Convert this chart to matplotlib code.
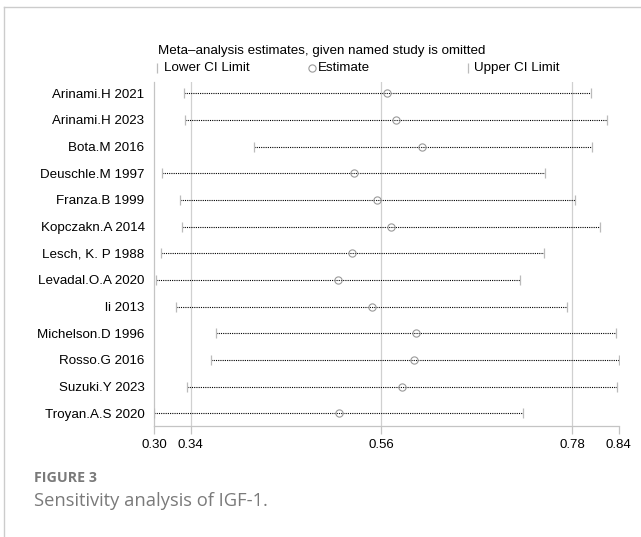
import matplotlib
matplotlib.use("Agg")
import matplotlib.pyplot as plt
from matplotlib.lines import Line2D

studies = ["Arinami.H 2021", "Arinami.H 2023", "Bota.M 2016", "Deuschle.M 1997",
           "Franza.B 1999", "Kopczakn.A 2014", "Lesch, K. P 1988", "Levadal.O.A 2020",
           "li 2013", "Michelson.D 1996", "Rosso.G 2016", "Suzuki.Y 2023", "Troyan.A.S 2020"]
lower = [0.3311, 0.3323, 0.4123, 0.3058, 0.3265, 0.3293, 0.3050, 0.2988,
         0.3227, 0.3688, 0.3623, 0.3354, 0.2973]
estimate = [0.5664, 0.5761, 0.6068, 0.5277, 0.5545, 0.5710, 0.5257, 0.5096,
            0.5488, 0.5995, 0.5976, 0.5834, 0.5104]
upper = [0.8010, 0.8202, 0.8025, 0.7487, 0.7833, 0.8121, 0.7468, 0.7198,
         0.7740, 0.8306, 0.8333, 0.8317, 0.7233]
tick_values = [0.2973, 0.3395, 0.5595, 0.7795, 0.8333]
tick_labels = ["0.30", "0.34", "0.56", "0.78", "0.84"]
grid_values = [0.3395, 0.5595, 0.7795]

plt.rcParams['font.family'] = ['Liberation Sans', 'DejaVu Sans']
FS = 9.6

W, H = 641, 537
fig = plt.figure(figsize=(W / 100, H / 100), dpi=100)

# frame around figure panel (top and left visible)
fig.add_artist(Line2D([4 / W, 4 / W], [0, 1 - 7 / H], color="#cccccc", lw=1))
fig.add_artist(Line2D([4 / W, 1], [1 - 7 / H, 1 - 7 / H], color="#cccccc", lw=1))

ax = fig.add_axes([154.3 / W, 1 - 426 / H, 464.4 / W, 344 / H])
n = len(studies)
ys = list(range(n))
ax.set_xlim(tick_values[0], tick_values[-1])
ax.set_ylim(12.475, -0.424)

for g in grid_values:
    ax.axvline(g, color="#d0d0d0", lw=0.9, zorder=0)

for i in ys:
    ax.plot([lower[i], upper[i]], [i, i], color="black", lw=0.8,
            linestyle=(0, (1, 1)), zorder=2)
ax.plot(lower, ys, linestyle="none", marker="|", markersize=7.5, color="#bbbbbb",
        markeredgewidth=0.9, zorder=3)
ax.plot(upper, ys, linestyle="none", marker="|", markersize=7.5, color="#bbbbbb",
        markeredgewidth=0.9, zorder=3)
ax.plot(estimate, ys, linestyle="none", marker="o", markersize=5.2,
        markerfacecolor="none", markeredgecolor="#9a9a9a", markeredgewidth=0.8, zorder=4)

for s in ["top", "right"]:
    ax.spines[s].set_visible(False)
for s in ["left", "bottom"]:
    ax.spines[s].set_color("#c4c4c4")
    ax.spines[s].set_linewidth(0.9)

ax.set_xticks(tick_values)
ax.set_xticklabels(tick_labels, fontsize=9.5)
ax.tick_params(axis="x", length=6, color="#c4c4c4", width=0.9, pad=3)
ax.set_yticks(ys)
ax.set_yticklabels(studies, fontsize=FS)
ax.tick_params(axis="y", length=0, pad=7)

# legend / title
fig.text(158 / W, 1 - 51 / H, "Meta\u2013analysis estimates, given named study is omitted",
         fontsize=FS, va="center", ha="left")
ly = 1 - 68 / H
fig.add_artist(Line2D([156.7 / W], [ly], marker="|", markersize=7.5, color="#bbbbbb",
                      markeredgewidth=0.9, linestyle="none"))
fig.text(164 / W, ly, "Lower CI Limit", fontsize=FS, va="center", ha="left")
fig.add_artist(Line2D([311.7 / W], [ly], marker="o", markersize=5.2, markerfacecolor="none",
                      markeredgecolor="#9a9a9a", markeredgewidth=0.8, linestyle="none"))
fig.text(318 / W, ly, "Estimate", fontsize=FS, va="center", ha="left")
fig.add_artist(Line2D([468.3 / W], [ly], marker="|", markersize=7.5, color="#bbbbbb",
                      markeredgewidth=0.9, linestyle="none"))
fig.text(474 / W, ly, "Upper CI Limit", fontsize=FS, va="center", ha="left")

# caption
fig.text(34 / W, 1 - 478 / H, "FIGURE 3", fontsize=10.3, fontweight="bold",
         color="#7a7a7a", family=["Open Sans", "DejaVu Sans"], va="center", ha="left")
fig.text(34 / W, 1 - 501 / H, "Sensitivity analysis of IGF-1.", fontsize=13.2,
         color="#7a7a7a", family=["Open Sans", "DejaVu Sans"], va="center", ha="left")

fig.savefig("out.png", dpi=100)
